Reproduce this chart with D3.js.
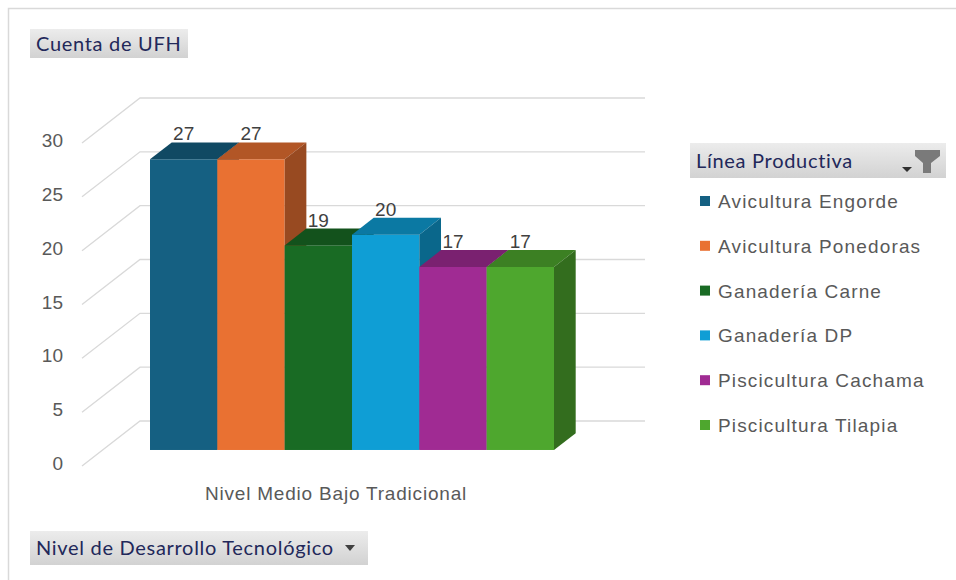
<!DOCTYPE html>
<html>
<head>
<meta charset="utf-8">
<script src="https://cdn.jsdelivr.net/npm/d3@7"></script>
<style>
  body { margin: 0; background: #fff; }
  svg text { font-family: "Liberation Sans", Arial, sans-serif; }
</style>
</head>
<body>
<script>
// data
var categories = ["Avicultura Engorde", "Avicultura Ponedoras", "Ganadería Carne",
                  "Ganadería DP", "Piscicultura Cachama", "Piscicultura Tilapia"];
var values = [27, 27, 19, 20, 17, 17];
var colors = ["#156082", "#E97132", "#196B24", "#0F9ED5", "#A02B93", "#4EA72E"];
var yTicks = [0, 5, 10, 15, 20, 25, 30];
var groupLabel = "Nivel Medio Bajo Tradicional";

var width = 956, height = 580;

var svg = d3.select("body").append("svg")
    .attr("width", width)
    .attr("height", height);

// gradient for the field buttons
var grad = svg.append("defs").append("linearGradient")
    .attr("id", "btn").attr("x1", 0).attr("y1", 0).attr("x2", 0).attr("y2", 1);
grad.append("stop").attr("offset", "0%").attr("stop-color", "#ececec");
grad.append("stop").attr("offset", "100%").attr("stop-color", "#d2d2d2");

// chart area border (top + left visible)
svg.append("path")
    .attr("d", "M8.5,580 V8.5 H956")
    .attr("fill", "none")
    .attr("stroke", "#d9d9d9")
    .attr("stroke-width", 1.5);

// scales: y on the front plane, depth as an oblique offset
var y = d3.scaleLinear().domain([0, 30]).range([466, 143]);
var depthX = d3.scaleLinear().domain([0, 1]).range([0, 58]);
var depthY = d3.scaleLinear().domain([0, 1]).range([0, -45]);
var floorLeft = 82, wallRight = 645;

var x = d3.scaleBand().domain(categories).range([150, 554]).padding(0);
var f0 = 0.356, f1 = 0.73;  // bar front / back depth

// gridlines
var grid = svg.append("g").attr("class", "grid");
yTicks.forEach(function(t) {
  var yf = y(t);
  grid.append("polyline")
      .attr("points", [floorLeft, yf, floorLeft + depthX(1), yf + depthY(1), wallRight, yf + depthY(1)].join(" "))
      .attr("fill", "none")
      .attr("stroke", "#d9d9d9")
      .attr("stroke-width", 1.3);
  grid.append("text")
      .attr("x", 63)
      .attr("y", yf + 4)
      .attr("text-anchor", "end")
      .style("font-size", "19px")
      .style("fill", "#595959")
      .text(t);
});

// bars, left to right
var bars = svg.append("g").attr("class", "bars");
var ddx = depthX(f1) - depthX(f0), ddy = depthY(f1) - depthY(f0);

categories.forEach(function(c, i) {
  var col = d3.color(colors[i]);
  var x0 = x(c), x1 = x0 + x.bandwidth();
  var yb = y(0) + depthY(f0), yt = y(values[i]) + depthY(f0);
  var g = bars.append("g");
  // front
  g.append("rect")
      .attr("x", x0).attr("y", yt)
      .attr("width", x.bandwidth()).attr("height", yb - yt)
      .attr("fill", col);
  // top
  g.append("path")
      .attr("d", "M" + x0 + "," + yt + "L" + x1 + "," + yt + "L" + (x1 + ddx) + "," + (yt + ddy) +
                 "L" + (x0 + ddx) + "," + (yt + ddy) + "Z")
      .attr("fill", col.darker(0.75));
  // right side
  g.append("path")
      .attr("d", "M" + x1 + "," + yt + "L" + (x1 + ddx) + "," + (yt + ddy) + "L" + (x1 + ddx) + "," + (yb + ddy) +
                 "L" + x1 + "," + yb + "Z")
      .attr("fill", col.darker(1.2));
});

// data labels
categories.forEach(function(c, i) {
  svg.append("text")
      .attr("x", x(c) + x.bandwidth() / 2)
      .attr("y", y(values[i]) + depthY(f1) - 2)
      .attr("text-anchor", "middle")
      .style("font-size", "19px")
      .style("fill", "#404040")
      .text(values[i]);
});

// category label
svg.append("text")
    .attr("x", 336)
    .attr("y", 500)
    .attr("text-anchor", "middle")
    .style("font-size", "19px")
    .style("letter-spacing", "0.8px")
    .style("fill", "#595959")
    .text(groupLabel);

// field buttons
function button(x0, y0, w, h, label) {
  svg.append("rect")
      .attr("x", x0).attr("y", y0).attr("width", w).attr("height", h)
      .attr("fill", "url(#btn)");
  svg.append("text")
      .attr("x", x0 + 6)
      .attr("y", y0 + h / 2 + 7)
      .style("font-family", "Lato, sans-serif")
      .style("font-size", "20px")
      .style("letter-spacing", "0.7px")
      .style("fill", "#22285a")
      .text(label);
}
button(30, 29, 158, 29, "Cuenta de UFH");
button(30, 531, 338, 34, "Nivel de Desarrollo Tecnológico");
svg.append("path").attr("d", "M345,545 L355,545 L350,551 Z").attr("fill", "#404040");

button(690, 143, 256, 35, "Línea Productiva");
svg.append("path").attr("d", "M902,167 L912,167 L907,172 Z").attr("fill", "#303030");
svg.append("path")
    .attr("d", "M915,150 L940,150 L940,156 L931,163 L931,173 L923,173 L923,163 L915,156 Z")
    .attr("fill", "#7a7a7a");

// legend
var legend = svg.append("g").attr("class", "legend");
categories.forEach(function(c, i) {
  var cy = 201 + i * 44.8;
  legend.append("rect")
      .attr("x", 700).attr("y", cy - 5)
      .attr("width", 10).attr("height", 10)
      .attr("fill", colors[i]);
  legend.append("text")
      .attr("x", 718)
      .attr("y", cy + 7)
      .style("font-size", "19px")
      .style("letter-spacing", "1.15px")
      .style("fill", "#595959")
      .text(c);
});
</script>
</body>
</html>
